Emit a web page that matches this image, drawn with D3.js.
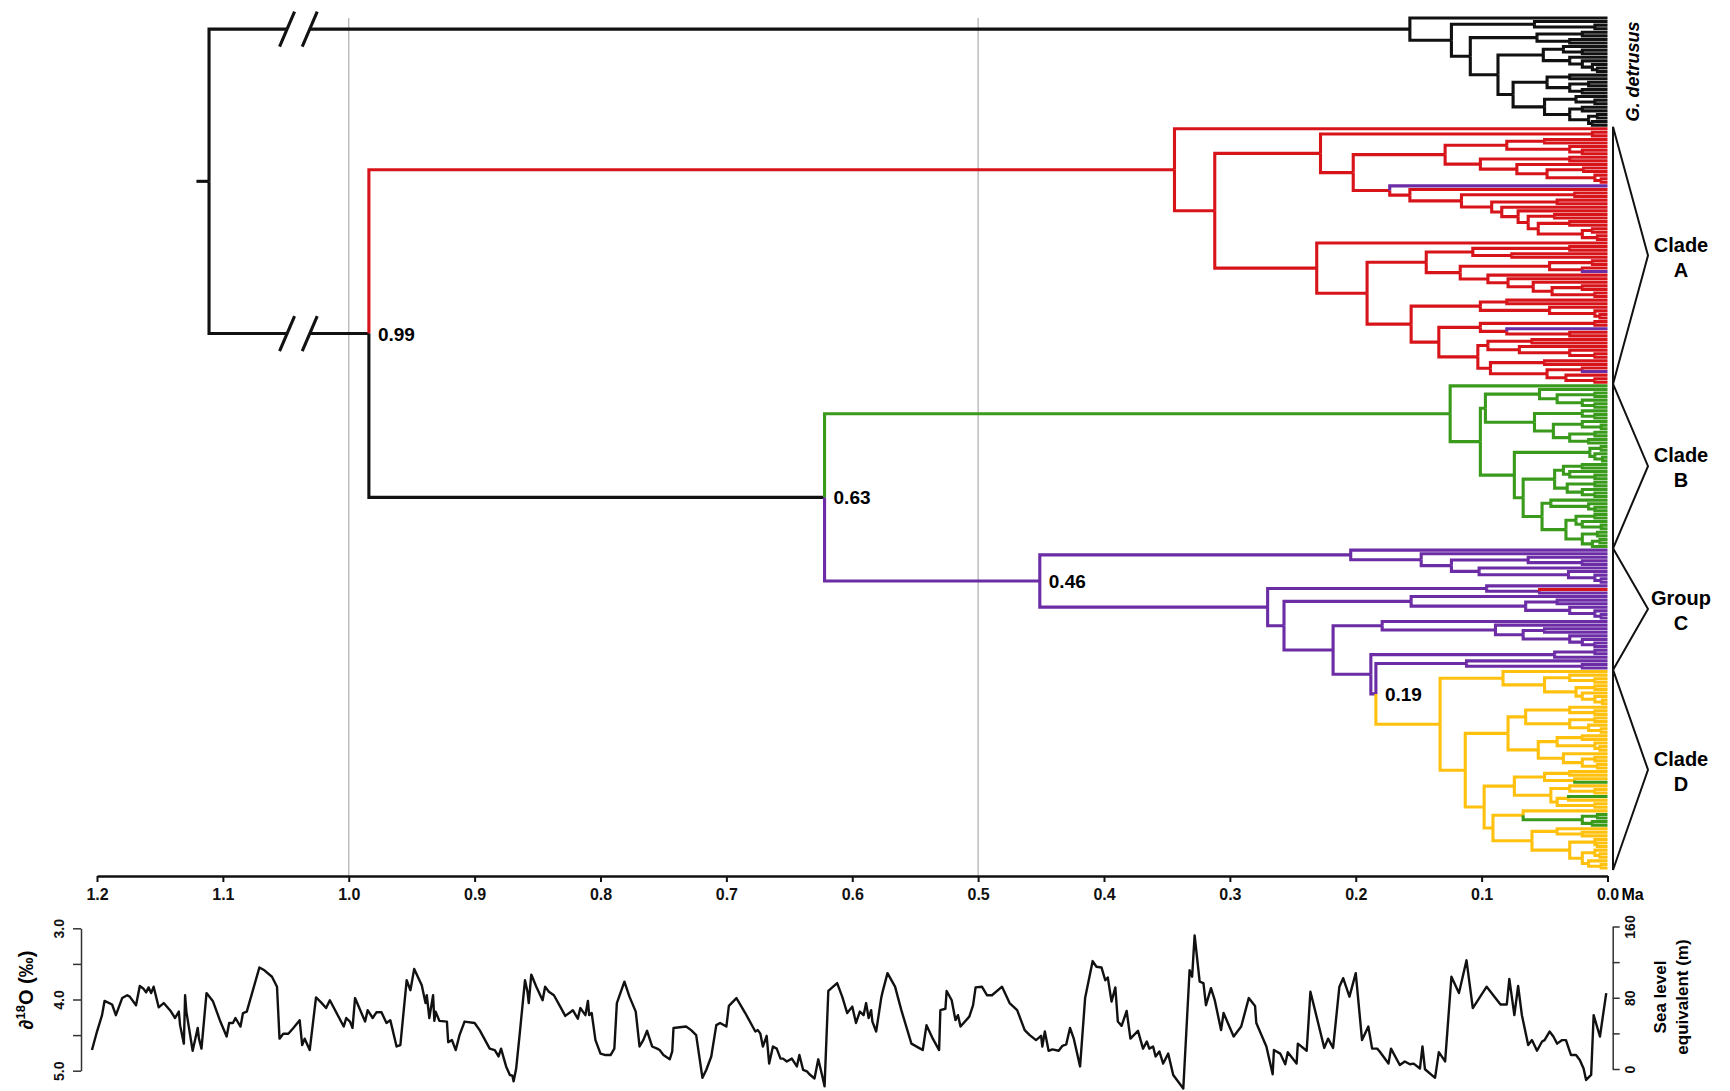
<!DOCTYPE html>
<html>
<head>
<meta charset="utf-8">
<script src="https://cdn.jsdelivr.net/npm/d3@7"></script>
<style>
  body { margin: 0; background: #fff; }
  text { font-family: "Liberation Sans", Arial, sans-serif; }
</style>
</head>
<body>
<div id="chart"></div>
<script>
const width = 1730;
const height = 1091;

// ---------- DATA ----------
// time axis (Ma)
const timeTicks = [1.2, 1.1, 1.0, 0.9, 0.8, 0.7, 0.6, 0.5, 0.4, 0.3, 0.2, 0.1, 0.0];
const gridAges = [1.0, 0.5];
const breakAges = [1.049, 1.031];   // "//" marks on the two root branches
const rootStubAge = 1.121;

// branch colours: k black, r red, g green, p purple, y yellow
const colorKeys = ["k", "r", "g", "p", "y"];
const colorValues = ["#111111", "#d8141b", "#3a9a1c", "#6b2ca5", "#ffc10e"];

// trees written as "(child,child)age" (age in Ma), leaves are "x" (or a colour letter),
// a letter after the age recolours that subtree, [..] = support value, {..} = clade id
const detrusus =
  "(x,((x,(x,x)0.01)0.058,(((x,x)0.02,(x,x)0.03)0.056,(" +
  "((x,(x,x)0.02)0.035,(x,(x,(x,(x,x)0.008)0.012)0.02)0.03)0.051," +
  "(((x,x)0.03,((x,x)0.015,(x,x)0.02)0.03)0.048," +
  "((x,(x,x)0.01)0.025,((x,x)0.02,((x,x)0.008,(x,x)0.012)0.015)0.03)0.05)0.075" +
  ")0.087)0.109)0.124)0.157{G}";

// clade A (red)
const a885 = "(((x,x)0.05,(x,(x,x)0.02)0.03)0.08,((x,x)0.03,(x,((x,x)0.019,(x,(x,x)0.005)0.01)0.048)0.072)0.101)0.129";
const a720 = "(p,(x,((x,x)0.026,((x,x)0.04,(x,(x,((x,x)0.042,((x,x)0.03,((x,x)0.012,(x,x)0.008)0.02)0.055)0.063)0.071)0.084)0.092)0.116)0.157)0.173";
const a510 = `((x,x)0.012,(${a885},${a720})0.202)0.228`;
const a830 = "(((x,x)0.03,(x,x)0.076)0.107,(((x,x)0.012,(x,p)0.02)0.046,(x,(x,(x,((x,x)0.02,(x,x)0.01)0.044)0.059)0.079)0.095)0.117)0.144";
const a785 = "(((x,x)0.08,(x,(x,(x,x)0.006)0.01)0.046)0.101,(((x,x)0.01,(p,(x,x)0.03)0.08)0.101,(((x,x)0.06,(x,(x,(x,x)0.01)0.03)0.07)0.095,((x,x)0.05,((x,p)0.02,(x,(x,x)0.01)0.033)0.048)0.093)0.103)0.134)0.156";
const a500 = `(x,(${a830},${a785})0.191)0.231`;
const cladeA = `(x,(${a510},${a500})0.312)0.344r{A}`;

// clade B (green)
const b315 = "((x,((x,x)0.01,(x,(x,x)0.01)0.02)0.04)0.054,((x,(x,x)0.01)0.02,((x,(x,x)0.005)0.02,((x,x)0.01,(x,x)0.015)0.03)0.043)0.058)0.097";
const b430 = "((((x,x)0.02,(x,(x,x)0.01)0.03)0.035,((x,x)0.01,(x,(x,x)0.01)0.02)0.032)0.042,((x,(x,(x,x)0.01)0.015)0.045,(((x,x)0.01,(x,(x,x)0.005)0.02)0.025,((x,x)0.008,((x,x)0.006,x)0.012)0.02)0.033)0.052)0.067";
const b405 = `(((x,x)0.005,(x,(x,x)0.004)0.01)0.014,${b430})0.074`;
const cladeB = `(x,(${b315},${b405})0.101)0.125g{B}`;

// clade D (yellow)
const d895 = "(x,((x,(x,x)0.01)0.03,((x,x)0.01,(x,(x,(x,x)0.004)0.01)0.02)0.025)0.05)0.083";
const d965 = "((x,(x,x)0.01)0.03,((x,x)0.01,(x,(x,x)0.005)0.015)0.03)0.065";
const d1000 = "(((x,x)0.02,(x,(x,x)0.006)0.01)0.04,(x,((x,x)0.01,(x,x)0.008)0.02)0.035)0.055";
const d930 = "(((x,x)0.03,(x,g)0.026)0.05,((x,(x,x)0.01)0.03,((g,x)0.031,(x,x)0.01)0.04)0.045)0.074";
const d955 = "(x,((x,x)0.008,(x,x)0.012)0.02g)0.067";
const d980 = "((x,(x,x)0.02)0.04,((x,(x,x)0.008)0.01,((x,(x,x)0.006)0.01,(x,(x,x)0.005)0.015)0.02)0.03)0.06";
const cladeD = `(${d895},((${d965},${d1000})0.079,(${d930},(${d955},${d980})0.091)0.098)0.113)0.133y{D}`;

// group C (purple)
const cTop = "(x,(x,((x,(x,x)0.02)0.063,(x,(x,(x,(x,x)0.005)0.01)0.031)0.102)0.124)0.148)0.204";
const c625 = "(x,((x,x)0.04,(x,(x,(x,x)0.005)0.01)0.03)0.065)0.156";
const c540 = "(x,(x,((x,x)0.05,(x,(x,(x,x)0.01)0.02)0.03)0.067)0.089)0.179";
const c505 = `(((x,x)0.01,x)0.042,((x,(x,x)0.02)0.112,${cladeD})0.184[0.19])0.188`;
const cBottom = `((x,(r,x)0.054)0.096,(${c625},(${c540},${c505})0.218)0.257)0.270`;

const treeString =
  `(${detrusus},(${cladeA},(${cladeB},(${cTop},${cBottom})0.451p[0.46]{C})0.622[0.63])0.984[0.99])1.111`;

const bracketIds = ["A", "B", "C", "D"];
const bracketTitles = [["Clade", "A"], ["Clade", "B"], ["Group", "C"], ["Clade", "D"]];

// benthic d18O stack (age Ma, permil)
const isoAge = [
  1.204, 1.200, 1.196, 1.194, 1.188, 1.185, 1.180, 1.176, 1.174, 1.169, 1.166, 1.163, 1.161, 1.159, 1.157, 1.155,
  1.151, 1.147, 1.142, 1.138, 1.135, 1.134, 1.131, 1.130, 1.129, 1.124, 1.120, 1.119, 1.117, 1.113, 1.108, 1.102,
  1.097, 1.095, 1.092, 1.090, 1.086, 1.084, 1.081, 1.071, 1.067, 1.061, 1.057, 1.055, 1.052, 1.048, 1.044, 1.039,
  1.037, 1.035, 1.031, 1.026, 1.022, 1.018, 1.015, 1.004, 1.002, 0.999, 0.997, 0.995, 0.987, 0.985, 0.981, 0.978,
  0.974, 0.970, 0.967, 0.962, 0.959, 0.954, 0.951, 0.948, 0.942, 0.939, 0.938, 0.936, 0.933, 0.932, 0.931, 0.928,
  0.922, 0.921, 0.918, 0.915, 0.912, 0.908, 0.900, 0.896, 0.888, 0.884, 0.881, 0.879,
  0.875, 0.872, 0.870, 0.869, 0.867, 0.864, 0.860, 0.858, 0.857, 0.855, 0.851, 0.846, 0.844, 0.841, 0.837, 0.832,
  0.828, 0.824, 0.822, 0.818, 0.816, 0.814, 0.812, 0.810, 0.809, 0.807, 0.804, 0.800, 0.796, 0.792, 0.789, 0.787,
  0.781, 0.777, 0.772, 0.769, 0.766, 0.763, 0.759, 0.755, 0.753, 0.750, 0.745, 0.743, 0.742, 0.732, 0.728, 0.724,
  0.719, 0.716, 0.712, 0.708, 0.705, 0.700, 0.698, 0.692, 0.685, 0.677, 0.675, 0.673, 0.671, 0.668, 0.666, 0.663,
  0.660, 0.657, 0.655, 0.652, 0.648, 0.644, 0.642, 0.639, 0.636, 0.634, 0.630, 0.627, 0.624, 0.622, 0.619, 0.612,
  0.608, 0.604, 0.600, 0.597, 0.594, 0.591, 0.589, 0.587, 0.585, 0.584, 0.581, 0.577, 0.576, 0.572, 0.566, 0.561,
  0.553, 0.546,
  0.544, 0.541, 0.536, 0.531, 0.530, 0.526, 0.525, 0.521, 0.518, 0.516, 0.514, 0.507, 0.504, 0.502, 0.497, 0.493,
  0.489, 0.481, 0.475, 0.469, 0.463, 0.459, 0.454, 0.450, 0.449, 0.447, 0.444, 0.441, 0.436, 0.433, 0.430, 0.427,
  0.424, 0.419, 0.415, 0.409, 0.406, 0.402, 0.399, 0.397, 0.394, 0.391, 0.389, 0.386, 0.382, 0.379, 0.373, 0.369,
  0.366, 0.364, 0.361, 0.359, 0.356, 0.353, 0.349, 0.345, 0.337, 0.332, 0.330, 0.328, 0.324, 0.321, 0.319, 0.315,
  0.312, 0.307, 0.305, 0.297, 0.291, 0.285, 0.280, 0.279, 0.271, 0.266, 0.265, 0.260, 0.256, 0.254, 0.247, 0.246,
  0.239, 0.236, 0.225, 0.222, 0.218, 0.213,
  0.210, 0.205, 0.200, 0.195, 0.190, 0.187, 0.183, 0.181, 0.174, 0.172, 0.165, 0.161, 0.157, 0.154, 0.149, 0.147,
  0.145, 0.137, 0.134, 0.129, 0.124, 0.118, 0.112, 0.107, 0.096, 0.085, 0.080, 0.078, 0.074, 0.071, 0.068, 0.063,
  0.060, 0.056, 0.052, 0.050, 0.046, 0.043, 0.040, 0.036, 0.033, 0.029, 0.025, 0.022, 0.019, 0.017, 0.013, 0.011,
  0.006, 0.001
];
const isoD18O = [
  4.71, 4.45, 4.22, 4.02, 4.07, 4.22, 3.98, 3.94, 3.96, 4.08, 3.81, 3.85, 3.90, 3.83, 3.91, 3.82,
  4.11, 4.05, 4.15, 4.26, 4.17, 4.36, 4.62, 3.94, 4.17, 4.72, 4.40, 4.55, 4.69, 3.91, 4.02, 4.31,
  4.52, 4.33, 4.33, 4.26, 4.38, 4.19, 4.17, 3.55, 3.59, 3.68, 3.82, 4.55, 4.48, 4.48, 4.40, 4.29,
  4.64, 4.55, 4.71, 3.97, 4.04, 4.12, 4.01, 4.38, 4.26, 4.31, 4.40, 3.98, 4.31, 4.15, 4.26, 4.18,
  4.18, 4.33, 4.29, 4.66, 4.64, 3.73, 3.87, 3.57, 3.80, 4.05, 3.94, 4.26, 3.94, 4.30, 4.17, 4.30,
  4.31, 4.60, 4.57, 4.71, 4.50, 4.31, 4.33, 4.43, 4.69, 4.71, 4.80, 4.69,
  4.94, 5.06, 5.07, 5.15, 4.97, 4.45, 3.73, 3.89, 4.05, 3.65, 3.82, 4.01, 3.82, 3.89, 3.94, 4.10,
  4.23, 4.18, 4.15, 4.27, 4.12, 4.17, 4.22, 4.02, 4.22, 4.19, 4.57, 4.76, 4.78, 4.78, 4.69, 4.05,
  3.75, 3.96, 4.17, 4.66, 4.57, 4.44, 4.66, 4.69, 4.71, 4.78, 4.84, 4.73, 4.40, 4.38, 4.43, 4.50,
  5.10, 4.99, 4.80, 4.36, 4.33, 4.38, 4.09, 3.98, 4.19, 4.45, 4.43, 4.48, 4.66, 4.51, 4.90, 4.66,
  4.69, 4.83, 4.83, 4.87, 4.83, 4.94, 4.78, 4.99, 5.01, 5.05, 5.11, 4.84, 5.06, 5.22, 3.88, 3.77,
  3.96, 4.19, 4.10, 4.33, 4.17, 4.22, 4.05, 4.26, 4.15, 4.31, 4.45, 3.98, 3.90, 3.63, 3.82, 4.15,
  4.62, 4.69,
  4.71, 4.36, 4.55, 4.71, 4.15, 4.13, 3.88, 4.01, 4.29, 4.22, 4.38, 4.24, 4.08, 3.83, 3.82, 3.94,
  3.94, 3.82, 4.05, 4.15, 4.43, 4.50, 4.57, 4.51, 4.66, 4.45, 4.72, 4.70, 4.72, 4.65, 4.63, 4.40,
  4.55, 4.94, 3.98, 3.46, 3.54, 3.55, 3.73, 3.69, 4.03, 3.83, 4.31, 4.37, 4.16, 4.55, 4.44, 4.69,
  4.59, 4.69, 4.66, 4.80, 4.73, 4.90, 4.76, 5.06, 5.25, 3.59, 3.68, 3.10, 3.75, 3.77, 4.08, 3.84,
  4.01, 4.43, 4.19, 4.52, 4.38, 3.98, 4.09, 4.33, 4.66, 5.05, 4.71, 4.76, 4.91, 4.74, 4.90, 4.62,
  4.72, 3.89, 4.68, 4.55, 4.68, 3.82,
  3.70, 3.96, 3.63, 4.57, 4.38, 4.69, 4.69, 4.73, 4.90, 4.69, 4.92, 4.87, 4.91, 4.90, 4.97, 4.66,
  4.98, 5.10, 4.74, 4.87, 3.68, 3.91, 3.45, 4.12, 3.82, 4.07, 4.07, 3.71, 4.22, 3.81, 4.22, 4.64,
  4.57, 4.72, 4.59, 4.57, 4.45, 4.52, 4.62, 4.57, 4.57, 4.78, 4.78, 4.85, 4.97, 5.13, 5.06, 4.22,
  4.52, 3.91
];
const isoTicks = [3, 3.5, 4, 4.5, 5];
const seaTicks = [0, 40, 80, 120, 160];

// ---------- LAYOUT ----------
const tree = { top: 18, bottom: 868, axisY: 876, branchWidth: 3.1 };
const colors = d3.scaleOrdinal().domain(colorKeys).range(colorValues);

const x = d3.scaleLinear().domain([1.2, 0]).range([97, 1607.5]);
const dScale = d3.scaleLinear().domain([3, 5]).range([928.3, 1070.7]);
const seaScale = d3.scaleLinear().domain([160, 0]).range([926.5, 1069]);

function parseTree(str) {
  let pos = 0;
  function readNode() {
    const node = { age: 0, color: null, label: null, clade: null, children: [] };
    if (str[pos] === "(") {
      pos++;
      node.children.push(readNode());
      while (str[pos] === ",") {
        pos++;
        node.children.push(readNode());
      }
      pos++; // ")"
      const num = str.slice(pos).match(/^[0-9.]+/)[0];
      node.age = +num;
      pos += num.length;
    }
    // colour letter, [support], {clade}
    while (pos < str.length && /[a-z\[{]/.test(str[pos])) {
      if (str[pos] === "[") {
        const end = str.indexOf("]", pos);
        node.label = str.slice(pos + 1, end);
        pos = end + 1;
      } else if (str[pos] === "{") {
        const end = str.indexOf("}", pos);
        node.clade = str.slice(pos + 1, end);
        pos = end + 1;
      } else {
        if (str[pos] !== "x") node.color = str[pos];
        pos++;
      }
    }
    if (!node.children.length) delete node.children;
    return node;
  }
  return readNode();
}

const root = d3.hierarchy(parseTree(treeString));
const leaves = root.leaves();
const yLeaf = d3.scalePoint().domain(d3.range(leaves.length)).range([tree.top, tree.bottom]);
leaves.forEach((d, i) => (d.y = yLeaf(i)));
root.eachAfter(d => {
  if (d.children) d.y = (d.children[0].y + d.children[d.children.length - 1].y) / 2;
  d.x = x(d.data.age);
});
root.eachBefore(d => {
  d.color = d.data.color || (d.parent ? d.parent.color : "k");
});

const svg = d3.select("#chart").append("svg")
  .attr("width", width)
  .attr("height", height);

// grey reference lines
svg.append("g").selectAll("line")
  .data(gridAges)
  .join("line")
  .attr("x1", d => x(d)).attr("x2", d => x(d))
  .attr("y1", tree.top).attr("y2", tree.axisY)
  .attr("stroke", "#b4b4b4")
  .attr("stroke-width", 1.3);

const treeG = svg.append("g")
  .attr("fill", "none")
  .attr("stroke-width", tree.branchWidth);

// root stub
treeG.append("line")
  .attr("x1", x(rootStubAge)).attr("x2", root.x)
  .attr("y1", root.y).attr("y2", root.y)
  .attr("stroke", colors("k"));

// the two root branches are broken
root.children.forEach(c => {
  treeG.append("path")
    .attr("d", `M${root.x},${root.y}V${c.y}H${x(breakAges[0])}M${x(breakAges[1])},${c.y}H${c.x}`)
    .attr("stroke", colors(c.color));
  breakAges.forEach(a => {
    treeG.append("line")
      .attr("x1", x(a) - 7.5).attr("y1", c.y + 17.5)
      .attr("x2", x(a) + 7.5).attr("y2", c.y - 17.5)
      .attr("stroke", colors("k"));
  });
});

// all other branches: elbow from parent, coloured like the child
const branches = root.descendants().filter(d => d.parent && d.parent !== root);
treeG.selectAll("path.branch")
  .data(branches)
  .join("path")
  .attr("class", "branch")
  .attr("d", d => `M${d.parent.x},${d.parent.y}V${d.y}H${d.x}`)
  .attr("stroke", d => colors(d.color));

// support values
svg.append("g").selectAll("text")
  .data(root.descendants().filter(d => d.data.label))
  .join("text")
  .attr("x", d => d.x + 9)
  .attr("y", d => d.y + 7)
  .attr("font-size", 19)
  .attr("font-weight", "bold")
  .text(d => d.data.label);

// clade brackets
function findClade(id) {
  return root.descendants().find(d => d.data.clade === id);
}
function cladeRange(id) {
  let lv = findClade(id).leaves();
  if (id === "C") {
    const inD = new Set(findClade("D").leaves());
    lv = lv.filter(l => !inD.has(l));
  }
  return [lv[0].y, lv[lv.length - 1].y];
}

const bracketG = svg.append("g");
bracketIds.forEach((id, i) => {
  const [y0, y1] = cladeRange(id);
  const mid = (y0 + y1) / 2;
  bracketG.append("path")
    .attr("d", `M1613,${y0 - 2}L1648,${mid}L1613,${y1 + 2}Z`)
    .attr("fill", "none")
    .attr("stroke", "#111")
    .attr("stroke-width", 2);
  bracketG.append("text")
    .attr("x", 1681).attr("y", mid - 4)
    .attr("text-anchor", "middle")
    .attr("font-size", 20).attr("font-weight", "bold")
    .text(bracketTitles[i][0]);
  bracketG.append("text")
    .attr("x", 1681).attr("y", mid + 21)
    .attr("text-anchor", "middle")
    .attr("font-size", 20).attr("font-weight", "bold")
    .text(bracketTitles[i][1]);
});

// outgroup label
const gRange = cladeRange("G");
svg.append("text")
  .attr("transform", `translate(1639,${(gRange[0] + gRange[1]) / 2}) rotate(-90)`)
  .attr("text-anchor", "middle")
  .attr("font-size", 18)
  .attr("font-weight", "bold")
  .attr("font-style", "italic")
  .text("G. detrusus");

// time axis
svg.append("g")
  .attr("transform", `translate(0,${tree.axisY})`)
  .call(d3.axisBottom(x).tickValues(timeTicks).tickFormat(d3.format(".1f"))
    .tickSize(6).tickSizeOuter(0).tickPadding(7))
  .call(g => g.select(".domain").attr("stroke", "#111").attr("stroke-width", 2.5))
  .call(g => g.selectAll(".tick line").attr("stroke", "#111").attr("stroke-width", 2))
  .call(g => g.selectAll("text")
    .attr("font-family", "Liberation Sans, Arial, sans-serif")
    .attr("font-size", 16).attr("font-weight", "bold").attr("fill", "#111"));

svg.append("text")
  .attr("x", x(0) + 14)
  .attr("y", tree.axisY + 13)
  .attr("dy", "0.71em")
  .attr("font-size", 16).attr("font-weight", "bold")
  .text("Ma");

// ---------- d18O panel ----------
const isoLine = d3.line()
  .x((d, i) => x(isoAge[i]))
  .y(d => dScale(d));

svg.append("path")
  .datum(isoD18O)
  .attr("d", isoLine)
  .attr("fill", "none")
  .attr("stroke", "#111")
  .attr("stroke-width", 2.4)
  .attr("stroke-linejoin", "round");

svg.append("g")
  .attr("transform", "translate(81,0)")
  .call(d3.axisLeft(dScale).tickValues(isoTicks).tickSize(8).tickSizeOuter(0)
    .tickFormat(d => Number.isInteger(d) ? d.toFixed(1) : ""))
  .call(g => g.selectAll("path, line").attr("stroke", "#333").attr("stroke-width", 1.5))
  .call(g => g.selectAll("text")
    .attr("x", 0).attr("dy", null)
    .attr("text-anchor", "middle")
    .attr("transform", "translate(-17,0) rotate(-90)")
    .attr("font-family", "Liberation Sans, Arial, sans-serif")
    .attr("font-size", 14).attr("font-weight", "bold").attr("fill", "#111"));

svg.append("g")
  .attr("transform", "translate(1612.7,0)")
  .call(d3.axisRight(seaScale).tickValues(seaTicks).tickSize(7).tickSizeOuter(0)
    .tickFormat(d => d % 80 === 0 ? d : ""))
  .call(g => g.selectAll("path, line").attr("stroke", "#333").attr("stroke-width", 1.5))
  .call(g => g.selectAll("text")
    .attr("x", 0).attr("dy", null)
    .attr("text-anchor", "middle")
    .attr("transform", "translate(22,0) rotate(-90)")
    .attr("font-family", "Liberation Sans, Arial, sans-serif")
    .attr("font-size", 14).attr("font-weight", "bold").attr("fill", "#111"));

// axis titles
const isoTitle = svg.append("text")
  .attr("transform", "translate(33,990) rotate(-90)")
  .attr("text-anchor", "middle")
  .attr("font-size", 20)
  .attr("font-weight", "bold");
isoTitle.append("tspan").text("\u2202");
isoTitle.append("tspan").attr("font-size", 13).attr("dy", -8).text("18");
isoTitle.append("tspan").attr("dy", 8).text("O (\u2030)");

[["Sea level", 1666], ["equivalent (m)", 1688]].forEach(([t, xPos]) => {
  svg.append("text")
    .attr("transform", `translate(${xPos},997) rotate(-90)`)
    .attr("text-anchor", "middle")
    .attr("font-size", 17)
    .attr("font-weight", "bold")
    .text(t);
});
</script>
</body>
</html>
